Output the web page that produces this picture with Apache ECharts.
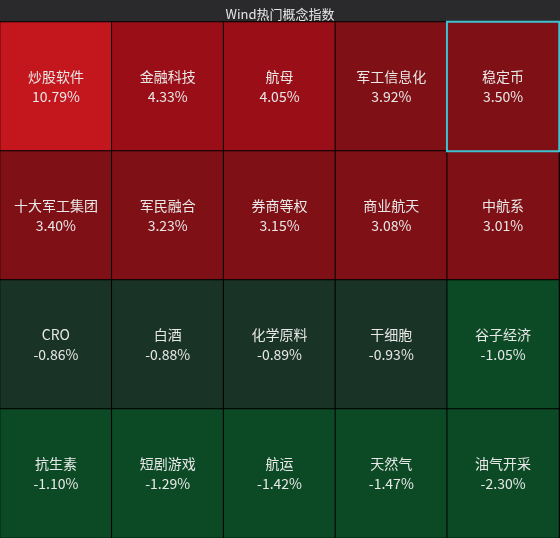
<!DOCTYPE html>
<html>
<head>
<meta charset="UTF-8">
<script src="https://cdn.jsdelivr.net/npm/echarts@6/dist/echarts.min.js"></script>
<style>
html, body { margin: 0; padding: 0; background: #000; }
#main { width: 560px; height: 538px; }
</style>
</head>
<body>
<div id="main"></div>
<script>
var names = ['炒股软件', '金融科技', '航母', '军工信息化', '稳定币',
    '十大军工集团', '军民融合', '券商等权', '商业航天', '中航系',
    'CRO', '白酒', '化学原料', '干细胞', '谷子经济',
    '抗生素', '短剧游戏', '航运', '天然气', '油气开采'];
var changes = [10.79, 4.33, 4.05, 3.92, 3.50,
    3.40, 3.23, 3.15, 3.08, 3.01,
    -0.86, -0.88, -0.89, -0.93, -1.05,
    -1.10, -1.29, -1.42, -1.47, -2.30];
var cols = ['0', '1', '2', '3', '4'];
var rows = ['0', '1', '2', '3'];
var selected = '稳定币';

// 按涨跌幅取色
function cellColor(v) {
    if (v >= 5) return '#c3161d';
    if (v >= 4) return '#9a0f17';
    if (v >= 0) return '#7f1015';
    if (v > -1) return '#1a3327';
    return '#0c4a25';
}

var data = names.map(function (n, i) {
    return {
        name: n,
        value: [i % 5, 3 - Math.floor(i / 5), changes[i]],
        itemStyle: { color: cellColor(changes[i]), borderColor: '#000', borderWidth: 1 }
    };
});
// 选中的格子最后画，边框不被盖住
var selData = data.filter(function (d) { return d.name === selected; });
selData.forEach(function (d) {
    d.itemStyle.borderColor = '#3fc1d0';
    d.itemStyle.borderWidth = 2;
});
data = data.filter(function (d) { return d.name !== selected; }).concat(selData);

var option = {
    backgroundColor: '#000',
    title: {
        text: 'Wind热门概念指数',
        left: 'center',
        top: 3,
        textStyle: { color: '#e6e6e6', fontSize: 13, fontWeight: 'normal', fontFamily: 'Noto Sans CJK SC' }
    },
    graphic: [{
        type: 'rect', z: -1,
        shape: { x: 0, y: 0, width: 560, height: 22 },
        style: { fill: '#2a2a2c' }
    }],
    grid: { left: 0, right: 1, top: 22, bottom: 0 },
    xAxis: { type: 'category', data: cols, show: false },
    yAxis: { type: 'category', data: rows, show: false },
    series: [{
        type: 'heatmap',
        data: data,
        label: {
            show: true,
            color: '#e8e8e8',
            fontSize: 14,
            lineHeight: 20,
            fontFamily: 'Noto Sans CJK SC',
            formatter: function (p) {
                return p.name + '\n' + p.value[2].toFixed(2) + '%';
            }
        }
    }]
};

var myChart = echarts.init(document.getElementById('main'));
myChart.setOption(option);
</script>
</body>
</html>
